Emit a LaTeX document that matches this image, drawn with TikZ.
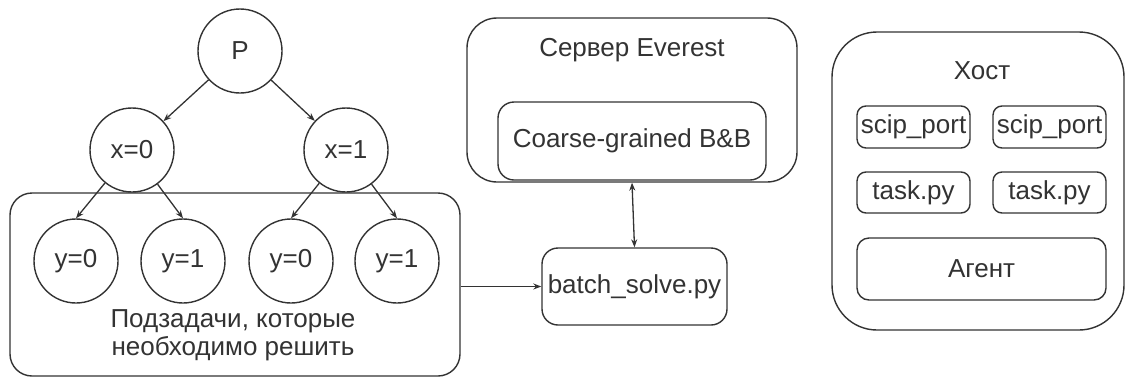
\documentclass[tikz,border=0pt]{standalone}
\usepackage{fontspec}
\setmainfont{Liberation Sans}
\usetikzlibrary{arrows.meta}
\definecolor{ink}{HTML}{333333}
\begin{document}
\begin{tikzpicture}[x=1pt,y=-1pt,
  every node/.style={font=\fontsize{26}{28}\selectfont, text=ink},
  circ/.style={draw=ink, line width=1.4pt, circle, minimum size=84pt, inner sep=0pt},
  rbox/.style={draw=ink, line width=1.4pt, rectangle, inner sep=0pt},
  conn/.style={draw=ink, line width=1.3pt, -{Stealth[length=8pt,width=6pt]}},
  dconn/.style={draw=ink, line width=1.3pt, {Stealth[length=8pt,width=6pt]}-{Stealth[length=8pt,width=6pt]}}]
\useasboundingbox[fill=white] (0,0) rectangle (1126,378);

% subproblem container
\node[rbox, rounded corners=22pt, minimum width=450pt, minimum height=183pt] (sub) at (235,284.5) {};
\node[align=center] (subtxt) at (233,335) {Подзадачи, которые\\необходимо решить};

% tree
\node[circ] (P) at (240,51) {P};
\node[circ] (x0) at (132,150) {x=0};
\node[circ] (x1) at (346,150) {x=1};
\node[circ] (y00) at (76,261) {y=0};
\node[circ] (y01) at (183,261) {y=1};
\node[circ] (y10) at (291,261) {y=0};
\node[circ] (y11) at (397,261) {y=1};

\draw[conn] (P) -- (x0);
\draw[conn] (P) -- (x1);
\draw[conn] (x0) -- (y00.north);
\draw[conn] (x0) -- (y01.north);
\draw[conn] (x1) -- (y10.north);
\draw[conn] (x1) -- (y11.north);

% server
\node[rbox, rounded corners=30pt, minimum width=330pt, minimum height=164pt] (server) at (632,100) {};
\node (servtxt) at (632,50) {Сервер Everest};
\node[rbox, rounded corners=16pt, minimum width=268pt, minimum height=78pt] (bb) at (632,141) {Coarse-grained B\&B};

\node[rbox, rounded corners=16pt, minimum width=185pt, minimum height=77pt] (batch) at (634.5,286.5) {batch\_solve.py};

\draw[conn] (sub.east |- batch.west) -- (batch.west);
\draw[dconn] (server.south) -- (batch.north);

% host
\node[rbox, rounded corners=45pt, minimum width=292pt, minimum height=298pt] (host) at (978,181) {};
\node (hosttxt) at (982,71) {Хост};
\node[rbox, rounded corners=9pt, minimum width=113pt, minimum height=42pt] (sp1) at (913.5,127) {scip\_port};
\node[rbox, rounded corners=9pt, minimum width=113pt, minimum height=42pt] (sp2) at (1049.5,127) {scip\_port};
\node[rbox, rounded corners=9pt, minimum width=113pt, minimum height=41pt] (tp1) at (913.5,192.5) {task.py};
\node[rbox, rounded corners=9pt, minimum width=113pt, minimum height=41pt] (tp2) at (1049.5,192.5) {task.py};
\node[rbox, rounded corners=12pt, minimum width=249pt, minimum height=62pt] (agent) at (981.5,269) {Агент};
\end{tikzpicture}
\end{document}
